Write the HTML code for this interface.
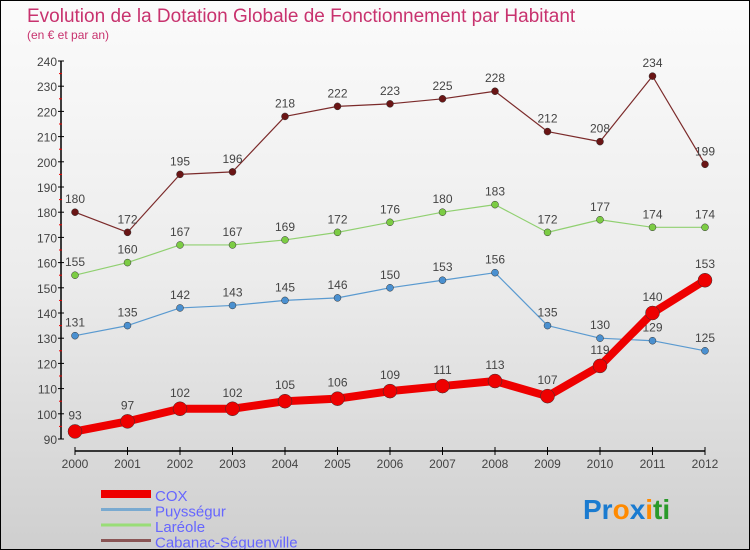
<!DOCTYPE html>
<html><head><meta charset="utf-8"><style>
html,body{margin:0;padding:0}
body{width:750px;height:550px;overflow:hidden;font-family:"Liberation Sans",sans-serif}
#wrap{position:relative;width:748px;height:548px;border:1px solid #000;background:linear-gradient(#fbfbfb,#ececec 50%,#cfcfcf)}
svg{position:absolute;left:0;top:0}
</style></head><body>
<div id="wrap">
<svg id="c" width="748" height="548">
<text x="26" y="21" font-size="19" fill="#c8326e">Evolution de la Dotation Globale de Fonctionnement par Habitant</text>
<text x="26" y="38" font-size="12" fill="#c8326e">(en € et par an)</text>
<g id="axes"></g><g id="series"></g><g id="legend"></g>
<text x="582" y="518" font-size="28" font-weight="bold"><tspan fill="#1a7bd0">Pr</tspan><tspan fill="#ff8a00">o</tspan><tspan fill="#1a7bd0">x</tspan><tspan fill="#ff8a00">i</tspan><tspan fill="#2a9a2a">ti</tspan></text>
</svg></div>
<script>
const years=[2000,2001,2002,2003,2004,2005,2006,2007,2008,2009,2010,2011,2012];
const yTicks=[90,100,110,120,130,140,150,160,170,180,190,200,210,220,230,240];
const cox=[93,97,102,102,105,106,109,111,113,107,119,140,153];
const puyssegur=[131,135,142,143,145,146,150,153,156,135,130,129,125];
const lareole=[155,160,167,167,169,172,176,180,183,172,177,174,174];
const cabanac=[180,172,195,196,218,222,223,225,228,212,208,234,199];
const names=["COX","Puysségur","Laréole","Cabanac-Séguenville"];
const NS="http://www.w3.org/2000/svg";
const x=i=>74+i*52.5;
const y=v=>438-(v-90)*(378/150);
function mk(p,t,a){const e=document.createElementNS(NS,t);for(const k in a)e.setAttribute(k,a[k]);p.appendChild(e);return e;}
const ax=document.getElementById('axes');
let e=mk(ax,'line',{x1:60,y1:y(240),x2:60,y2:y(90),stroke:'#000','stroke-width':1.5});


e=mk(ax,'line',{x1:74,y1:450,x2:704,y2:450,stroke:'#000','stroke-width':1.5});


yTicks.forEach(v=>{
  mk(ax,'line',{x1:57,y1:y(v),x2:63,y2:y(v),stroke:'#000'});
  if(v<240) mk(ax,'line',{x1:58,y1:y(v+5),x2:61,y2:y(v+5),stroke:'#e00'});
  const t=mk(ax,'text',{x:56,y:y(v)+5,'text-anchor':'end','font-size':12,fill:'#444'});
  t.textContent=v;
  
  
});
years.forEach((yr,i)=>{
  mk(ax,'line',{x1:x(i),y1:446,x2:x(i),y2:454,stroke:'#000'});
  const t=mk(ax,'text',{x:x(i),y:467,'text-anchor':'middle','font-size':12,fill:'#444'});
  t.textContent=yr;
  
  
});
const sg=document.getElementById('series');
function series(data,color,dot,w,r,nm,off){
  const g=mk(sg,'g',{});
  
  
  mk(g,'polyline',{points:data.map((v,i)=>x(i)+','+y(v)).join(' '),fill:'none',stroke:color,'stroke-width':w,'stroke-linejoin':'round'});
  data.forEach((v,i)=>{
    const c=mk(g,'circle',{cx:x(i),cy:y(v),r:r,fill:dot,stroke:'#333','stroke-width':0.5});
    
    
    const t=mk(g,'text',{x:x(i),y:y(v)-off,'text-anchor':'middle','font-size':12,fill:'#444'});
    t.textContent=v;
    
    
  });
}
series(cabanac,'#7b2a2a','#6a1515',1.2,3.5,'cabanac',9);
series(lareole,'#90d070','#7ccc44',1.2,3.5,'lareole',9);
series(puyssegur,'#5a9ad0','#4a90d0',1.2,3.5,'puyssegur',9);
series(cox,'#ee0000','#ee0000',8,7,'cox',12);
const lg=document.getElementById('legend');
const lc=['#ee0000','#7aaad0','#99dd77','#8a5555'];const lw=[8,3,3,3];
names.forEach((n,i)=>{
  const yy=493+i*15.5;
  const g=mk(lg,'g',{});
  
  
  mk(g,'line',{x1:100,y1:yy,x2:150,y2:yy,stroke:lc[i],'stroke-width':lw[i]});
  const t=mk(g,'text',{x:154,y:yy+7,'font-size':15,fill:'#6666ff'});
  t.textContent=n;
});
</script>
</body></html>
